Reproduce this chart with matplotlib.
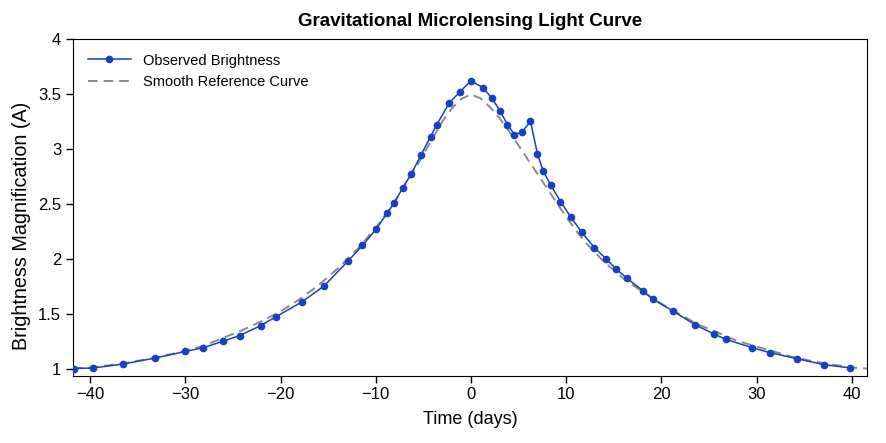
import matplotlib
matplotlib.use("Agg")
import matplotlib.pyplot as plt

plt.rcParams['font.family'] = ['Liberation Sans', 'DejaVu Sans']

# observed points
t_obs = [-41.7, -39.7, -36.6, -33.2, -30.0, -28.1, -26.0, -24.3, -22.1, -20.5,
         -17.7, -15.45, -12.9, -11.4, -9.95, -8.8, -8.06, -7.16, -6.28, -5.27,
         -4.25, -3.6, -2.26, -1.2, 0.0, 1.28, 2.2, 3.1, 3.83, 4.57,
         5.33, 6.25, 6.98, 7.58, 8.38, 9.4, 10.48, 11.63, 12.96, 14.19,
         15.2, 16.4, 18.04, 19.1, 21.2, 23.5, 25.5, 26.8, 29.5, 31.4,
         34.2, 37.1, 39.8]
a_obs = [1.0, 1.005, 1.04, 1.095, 1.155, 1.19, 1.25, 1.30, 1.39, 1.47,
         1.61, 1.75, 1.98, 2.12, 2.27, 2.415, 2.51, 2.645, 2.77, 2.94,
         3.11, 3.22, 3.42, 3.515, 3.62, 3.555, 3.46, 3.34, 3.22, 3.13,
         3.15, 3.25, 2.955, 2.80, 2.67, 2.52, 2.38, 2.24, 2.10, 2.0,
         1.91, 1.82, 1.71, 1.63, 1.525, 1.40, 1.315, 1.265, 1.19, 1.145,
         1.09, 1.035, 1.006]

# smooth reference curve
t_ref = [-41.8, -40, -37, -34, -31, -30, -28, -26, -24, -22, -20, -18, -16, -14,
         -12, -10, -8, -6, -5, -4, -3, -2, -1, 0, 1, 2, 3, 4, 5, 6, 7, 8, 9,
         10, 11, 12, 14, 16, 18, 20, 22, 24, 26, 28, 30, 32, 34, 36, 38, 40, 41.6]
a_ref = [1.0, 1.01, 1.04, 1.085, 1.14, 1.16, 1.21, 1.28, 1.35, 1.43, 1.52, 1.63,
         1.76, 1.91, 2.08, 2.28, 2.52, 2.80, 2.95, 3.10, 3.25, 3.37, 3.455, 3.495,
         3.46, 3.38, 3.28, 3.16, 3.03, 2.90, 2.77, 2.64, 2.51, 2.38, 2.26, 2.15,
         1.97, 1.82, 1.70, 1.59, 1.49, 1.395, 1.325, 1.25, 1.20, 1.15, 1.10,
         1.065, 1.035, 1.01, 1.0]

fig = plt.figure(figsize=(8.87, 4.43), dpi=100)
ax = fig.add_axes([0.0823, 0.152, 0.8952, 0.76])

ax.plot(t_ref, a_ref, '--', color='#8a8a8a', lw=1.4, dashes=(5, 3),
        label='Smooth Reference Curve', zorder=2)
ax.plot(t_obs, a_obs, '-o', color='#1840c0', lw=1.1, ms=4.5,
        label='Observed Brightness', zorder=3)

ax.set_xlim(-41.8, 41.6)
ax.set_ylim(0.935, 4.0)
ax.set_xticks([-40, -30, -20, -10, 0, 10, 20, 30, 40])
ax.set_xticklabels(['\u221240', '\u221230', '\u221220', '\u221210', '0', '10', '20', '30', '40'])
ax.set_yticks([1, 1.5, 2, 2.5, 3, 3.5, 4])
ax.set_yticklabels(['1', '1.5', '2', '2.5', '3', '3.5', '4'])
ax.tick_params(direction='out', length=5, width=1, labelsize=12)

ax.set_xlabel('Time (days)', fontsize=13, labelpad=6)
ax.set_ylabel('Brightness Magnification (A)', fontsize=14.2)
ax.yaxis.set_label_coords(-0.053, 0.445)
ax.set_title('Gravitational Microlensing Light Curve', fontsize=13.5,
             fontweight='bold', pad=9)

handles, labels = ax.get_legend_handles_labels()
ax.legend(handles[::-1], labels[::-1], loc='upper left', frameon=False,
          fontsize=10.5, handlelength=3, borderaxespad=0.6)

fig.savefig('out.png', dpi=100)
